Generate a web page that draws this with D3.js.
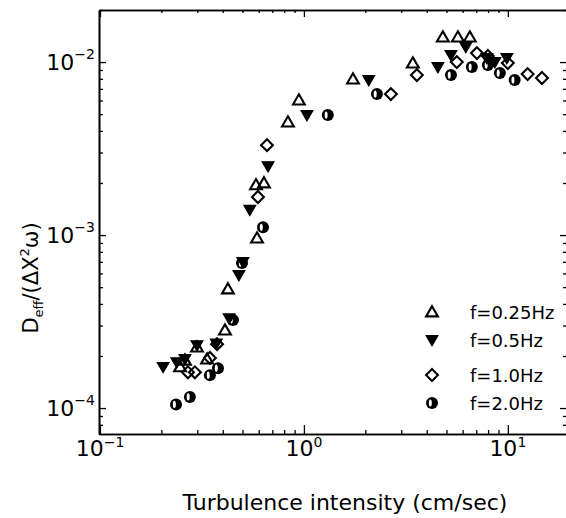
<!DOCTYPE html>
<html><head><meta charset="utf-8">
<script src="https://cdn.jsdelivr.net/npm/d3@7"></script>
<style>body{margin:0;background:#fff}svg{display:block}</style>
</head><body>
<svg id="c" width="566" height="518"></svg>
<script>
// ---- data (turbulence intensity cm/s, Deff/(ΔX²ω)) ----
const seriesNames = ["f=0.25Hz", "f=0.5Hz", "f=1.0Hz", "f=2.0Hz"];
const f025 = [[0.247,1.73e-4],[0.261,1.89e-4],[0.299,2.25e-4],[0.335,1.92e-4],[0.410,2.82e-4],
  [0.424,4.88e-4],[0.589,9.61e-4],[0.582,1.95e-3],[0.637,2.00e-3],[0.835,4.50e-3],[0.945,6.03e-3],
  [1.74,7.98e-3],[3.42,9.87e-3],[4.80,1.395e-2],[5.69,1.395e-2],[6.51,1.395e-2]];
const f05 = [[0.204,1.73e-4],[0.238,1.84e-4],[0.261,1.92e-4],[0.299,2.31e-4],[0.372,2.36e-4],
  [0.430,3.30e-4],[0.480,5.87e-4],[0.502,6.99e-4],[0.543,1.40e-3],[0.667,2.50e-3],[1.035,4.94e-3],
  [2.08,7.87e-3],[4.54,9.36e-3],[5.26,1.10e-2],[6.22,1.222e-2],[7.89,1.055e-2],[8.64,1.00e-2],[9.89,1.055e-2]];
const f10 = [[0.270,1.61e-4],[0.292,1.61e-4],[0.346,1.95e-4],[0.375,2.34e-4],[0.595,1.66e-3],
  [0.659,3.31e-3],[2.67,6.53e-3],[3.58,8.41e-3],[5.62,1.00e-2],[7.05,1.127e-2],[7.98,1.084e-2],
  [10.0,9.87e-3],[12.5,8.52e-3],[14.7,8.09e-3]];
const f20 = [[0.236,1.05e-4],[0.276,1.16e-4],[0.346,1.55e-4],[0.379,1.70e-4],[0.449,3.23e-4],
  [0.497,6.89e-4],[0.630,1.11e-3],[1.31,4.94e-3],[2.28,6.53e-3],[5.26,8.41e-3],[6.66,9.36e-3],
  [7.98,9.61e-3],[9.14,8.64e-3],[10.8,7.87e-3]];
const xMajorTicks = [0.1, 1, 10];
const xTickExp = ["\u22121", "0", "1"];
const yMajorTicks = [1e-4, 1e-3, 1e-2];
const yTickExp = ["\u22124", "\u22123", "\u22122"];
const xLabel = "Turbulence intensity (cm/sec)";

// ---- layout ----
const svg = d3.select("#c");
const L = 99, R = 567, T = 10, B = 434;
const x = d3.scaleLog().domain([0.0989, 19.5]).range([L, R]);
const y = d3.scaleLog().domain([7.08e-5, 0.02]).range([B, T]);
const FONT = "DejaVu Sans, Liberation Sans, sans-serif";

function minors(lo, hi) {
  const out = [];
  for (let e = Math.floor(Math.log10(lo)); e <= Math.ceil(Math.log10(hi)); e++)
    for (let m = 1; m <= 9; m++) { const v = m * Math.pow(10, e); if (v >= lo && v <= hi) out.push(v); }
  return out;
}
const xMinor = minors(0.0989, 19.5).filter(v => !xMajorTicks.some(t => Math.abs(t - v) / t < 1e-9));
const yMinor = minors(7.08e-5, 0.02).filter(v => !yMajorTicks.some(t => Math.abs(t - v) / t < 1e-9));

function styleAxis(g) {
  g.selectAll("path.domain").attr("stroke", "#000").attr("stroke-width", 1.6);
  g.selectAll(".tick line").attr("stroke", "#000").attr("stroke-width", 1.3);
  g.selectAll(".tick text").remove();
}
// bottom / top
svg.append("g").attr("transform", `translate(0,${B})`)
  .call(d3.axisBottom(x).tickValues(xMajorTicks).tickSize(-9).tickSizeOuter(0)).call(styleAxis);
svg.append("g").attr("transform", `translate(0,${B})`)
  .call(d3.axisBottom(x).tickValues(xMinor).tickSize(-4).tickSizeOuter(0)).call(styleAxis);
svg.append("g").attr("transform", `translate(0,${T})`)
  .call(d3.axisTop(x).tickValues(xMajorTicks).tickSize(-7).tickSizeOuter(0)).call(styleAxis);
svg.append("g").attr("transform", `translate(0,${T})`)
  .call(d3.axisTop(x).tickValues(xMinor).tickSize(-3).tickSizeOuter(0)).call(styleAxis);
// left / right
svg.append("g").attr("transform", `translate(${L},0)`)
  .call(d3.axisLeft(y).tickValues(yMajorTicks).tickSize(-7).tickSizeOuter(0)).call(styleAxis);
svg.append("g").attr("transform", `translate(${L},0)`)
  .call(d3.axisLeft(y).tickValues(yMinor).tickSize(-4).tickSizeOuter(0)).call(styleAxis);
svg.append("g").attr("transform", `translate(${R},0)`)
  .call(d3.axisRight(y).tickValues(yMajorTicks).tickSize(-7).tickSizeOuter(0)).call(styleAxis);
svg.append("g").attr("transform", `translate(${R},0)`)
  .call(d3.axisRight(y).tickValues(yMinor).tickSize(-4).tickSizeOuter(0)).call(styleAxis);

// tick labels
const xl = svg.append("g").selectAll("text").data(xMajorTicks).join("text")
  .attr("x", d => x(d)).attr("y", B + 22).attr("text-anchor", "middle")
  .attr("font-family", FONT).attr("font-size", 22).attr("fill", "#000");
xl.append("tspan").text("10");
xl.append("tspan").attr("dy", -9).attr("font-size", 14).text((d, i) => xTickExp[i]);

const yl = svg.append("g").selectAll("text").data(yMajorTicks).join("text")
  .attr("x", 95).attr("y", d => y(d) + 8).attr("text-anchor", "end")
  .attr("font-family", FONT).attr("font-size", 22).attr("fill", "#000");
yl.append("tspan").text("10");
yl.append("tspan").attr("dy", -11).attr("font-size", 14).text((d, i) => yTickExp[i]);

// axis titles
svg.append("text").attr("x", 345).attr("y", 510).attr("text-anchor", "middle")
  .attr("font-family", FONT).attr("font-size", 22).attr("fill", "#000").text(xLabel);
const yt = svg.append("text").attr("transform", "translate(38,278) rotate(-90)")
  .attr("text-anchor", "middle").attr("font-family", FONT).attr("font-size", 21).attr("fill", "#000");
yt.append("tspan").text("D");
yt.append("tspan").attr("font-size", 13).attr("dy", 5).text("eff");
yt.append("tspan").attr("dy", -5).text("/(\u0394X");
yt.append("tspan").attr("font-size", 13).attr("dy", -9).text("2");
yt.append("tspan").attr("dy", 9).text("\u03c9)");

// ---- markers ----
const triPath = d3.symbol().type(d3.symbolTriangle).size(60)();
const diaPath = d3.symbol().type(d3.symbolSquare).size(70)();
function drawTri(g) { g.append("path").attr("d", triPath).attr("transform", "translate(0,1)").attr("fill", "none").attr("stroke", "#000").attr("stroke-width", 2.1); }
function drawDown(g) { g.append("path").attr("d", triPath).attr("transform", "rotate(180) translate(0,1)").attr("fill", "#000").attr("stroke", "#000").attr("stroke-width", 1.2); }
function drawDia(g) { g.append("path").attr("d", diaPath).attr("transform", "rotate(45)").attr("fill", "none").attr("stroke", "#000").attr("stroke-width", 2.1); }
function drawHalf(g) {
  g.append("circle").attr("r", 6).attr("fill", "#000");
  g.append("ellipse").attr("cx", -1.7).attr("rx", 1.5).attr("ry", 3.6).attr("fill", "#fff");
}
const drawers = [drawTri, drawDown, drawDia, drawHalf];
const allSeries = [f025, f05, f10, f20];
const order = [3, 1, 2, 0];
order.forEach(si => {
  svg.append("g").selectAll("g").data(allSeries[si]).join("g")
    .attr("transform", d => `translate(${x(d[0])},${y(d[1])})`)
    .each(function () { drawers[si](d3.select(this)); });
});

// ---- legend ----
const legY = [312, 340, 375, 403];
const leg = svg.append("g").selectAll("g").data(seriesNames).join("g")
  .attr("transform", (d, i) => `translate(432,${legY[i]})`);
leg.each(function (d, i) { drawers[i](d3.select(this)); });
leg.append("text").attr("x", 38).attr("y", 7).attr("font-family", FONT).attr("font-size", 18)
  .attr("fill", "#000").text(d => d);
</script>
</body></html>
